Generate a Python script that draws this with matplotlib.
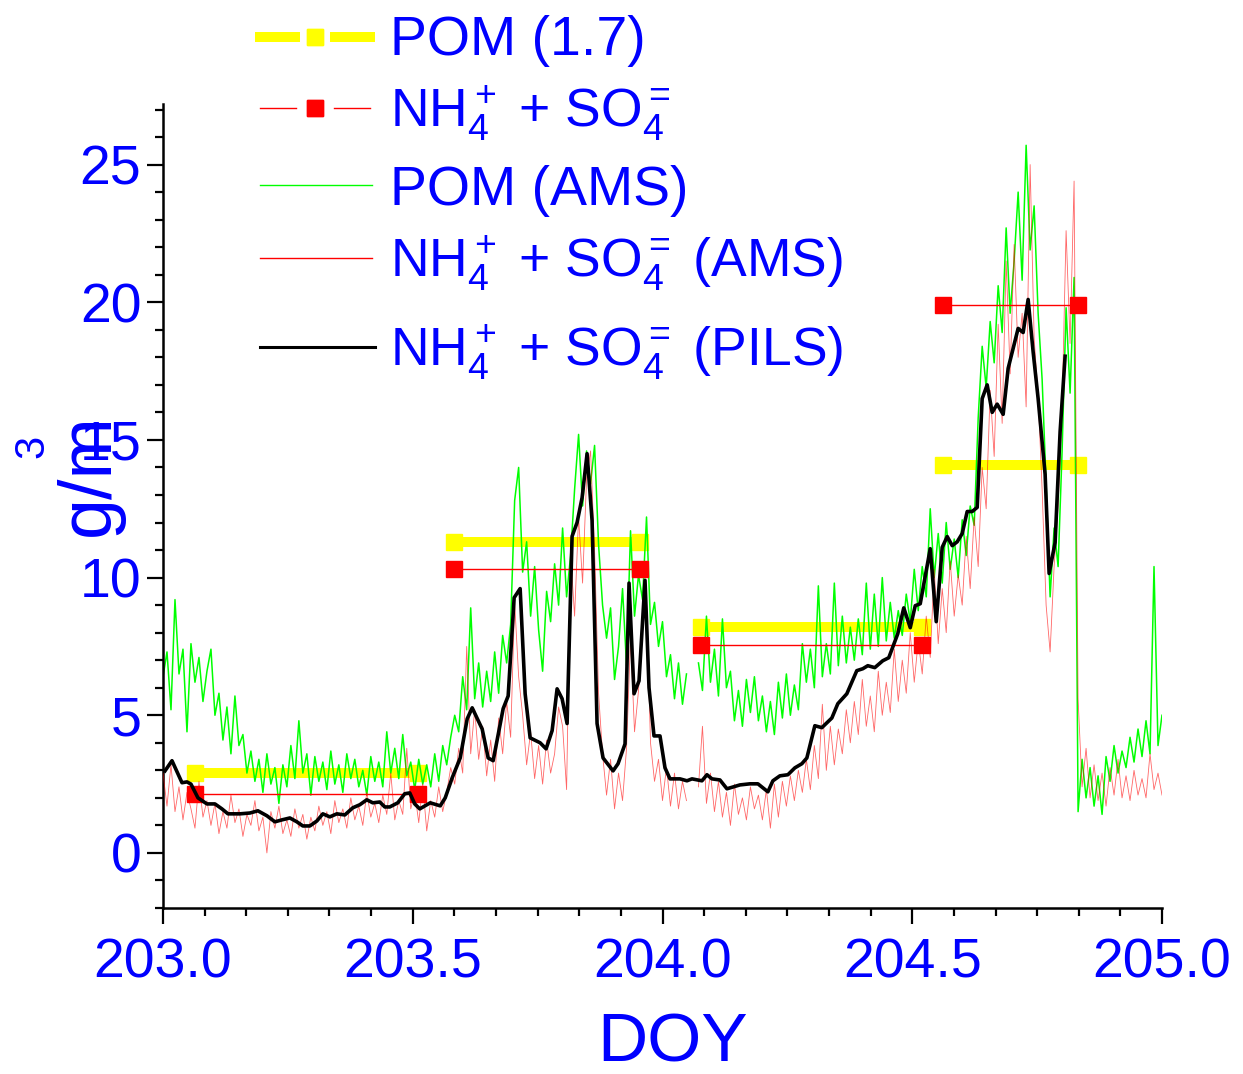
import numpy as np
import matplotlib
matplotlib.use("Agg")
import matplotlib.pyplot as plt
from matplotlib.lines import Line2D
from matplotlib.ticker import MultipleLocator, FormatStrFormatter

plt.rcParams['font.family'] = ['Liberation Sans', 'DejaVu Sans']
plt.rcParams['mathtext.fontset'] = 'custom'
plt.rcParams['mathtext.rm'] = 'Liberation Sans'
plt.rcParams['mathtext.it'] = 'Liberation Sans:italic'
plt.rcParams['mathtext.bf'] = 'Liberation Sans:bold'

BLUE = '#0000ff'
W, H = 1243, 1074

# filter samples: collection start / end (DOY) and mass
filter_start = [203.064, 203.583, 204.077, 204.562]
filter_end = [203.510, 203.955, 204.520, 204.832]
pom_filter = [2.9, 11.3, 8.2, 14.1]
nh4so4_filter = [2.15, 10.3, 7.55, 19.9]

# PILS NH4+ + SO4=
pils_doy = [
    203.004, 203.018, 203.038, 203.048, 203.056, 203.070, 203.088, 203.104, 203.118, 203.130,
    203.154, 203.174, 203.190, 203.208, 203.224, 203.238, 203.254, 203.268, 203.280, 203.294,
    203.308, 203.320, 203.334, 203.348, 203.364, 203.380, 203.394, 203.408, 203.420, 203.434,
    203.444, 203.454, 203.470, 203.484, 203.494, 203.504, 203.514, 203.535, 203.555, 203.565,
    203.579, 203.595, 203.609, 203.619, 203.639, 203.651, 203.661, 203.681, 203.691, 203.703,
    203.715, 203.725, 203.735, 203.755, 203.767, 203.779, 203.789, 203.799, 203.809, 203.819,
    203.829, 203.839, 203.849, 203.859, 203.869, 203.881, 203.901, 203.911, 203.925, 203.933,
    203.943, 203.953, 203.965, 203.973, 203.983, 203.995, 204.005, 204.015, 204.035, 204.049,
    204.059, 204.079, 204.089, 204.099, 204.115, 204.129, 204.155, 204.175, 204.191, 204.211,
    204.221, 204.235, 204.251, 204.265, 204.279, 204.289, 204.305, 204.319, 204.339, 204.351,
    204.369, 204.389, 204.401, 204.411, 204.425, 204.441, 204.453, 204.471, 204.483, 204.496,
    204.506, 204.516, 204.536, 204.548, 204.560, 204.570, 204.580, 204.590, 204.600, 204.610,
    204.620, 204.630, 204.640, 204.650, 204.660, 204.670, 204.682, 204.692, 204.712, 204.722,
    204.732, 204.742, 204.752, 204.766, 204.774, 204.786, 204.796, 204.806,
]
pils_nh4so4 = [
    2.98, 3.35, 2.55, 2.58, 2.5, 2.0, 1.78, 1.78, 1.6, 1.42,
    1.42, 1.45, 1.53, 1.35, 1.13, 1.2, 1.27, 1.13, 0.98, 0.98,
    1.16, 1.42, 1.31, 1.42, 1.38, 1.64, 1.75, 1.93, 1.82, 1.85,
    1.67, 1.67, 1.82, 2.15, 2.18, 1.78, 1.6, 1.82, 1.71, 2.0,
    2.73, 3.45, 4.87, 5.27, 4.5, 3.45, 3.35, 5.24, 5.7, 9.27,
    9.6, 5.78, 4.18, 4.0, 3.78, 4.44, 5.96, 5.6, 4.7, 11.5,
    12.0, 12.9, 14.5, 12.07, 4.7, 3.45, 2.98, 3.24, 3.96, 9.8,
    5.78, 6.25, 9.9, 6.0, 4.25, 4.25, 3.09, 2.69, 2.69, 2.62,
    2.69, 2.62, 2.84, 2.69, 2.65, 2.33, 2.47, 2.51, 2.51, 2.22,
    2.62, 2.8, 2.84, 3.09, 3.24, 3.45, 4.62, 4.55, 4.9, 5.42,
    5.78, 6.62, 6.69, 6.8, 6.73, 6.98, 7.09, 7.96, 8.9, 8.18,
    8.98, 9.05, 11.05, 8.4, 11.1, 11.49, 11.16, 11.3, 11.6, 12.4,
    12.4, 12.55, 16.5, 17.0, 16.0, 16.3, 15.93, 17.6, 19.05, 18.9,
    20.1, 18.2, 16.5, 13.75, 10.15, 11.27, 15.3, 18.04,
]

# AMS, one sample every 0.008 day from DOY 203.0 (nan = no data)
ams_start = 203.0
ams_step = 0.008
nan = np.nan
pom_ams = [
    6.4, 7.3, 5.2, 9.2, 6.5, 7.4, 4.4, 7.6, 6.2, 7.1,
    5.5, 6.6, 7.4, 5.0, 5.8, 4.1, 5.3, 3.6, 5.7, 3.9,
    4.3, 2.9, 3.7, 2.6, 3.4, 2.2, 3.6, 2.5, 3.1, 1.8,
    3.2, 2.4, 3.9, 2.7, 4.8, 2.9, 3.6, 2.1, 3.5, 2.6,
    3.3, 2.3, 3.7, 2.5, 3.2, 2.2, 3.6, 2.7, 3.4, 2.4,
    3.0, 2.1, 3.5, 2.6, 3.3, 2.4, 4.4, 2.9, 3.8, 2.7,
    4.3, 2.8, 3.3, 2.3, 3.4, 2.5, 3.2, 2.4, 3.6, 2.6,
    3.9, 3.2, 4.2, 5.0, 4.4, 6.4, 5.2, 8.9, 5.6, 6.9,
    5.3, 6.6, 5.5, 7.3, 5.8, 7.9, 6.9, 8.3, 12.8, 14.0,
    10.2, 11.3, 8.6, 10.4, 8.1, 6.6, 9.5, 8.4, 10.5, 9.0,
    11.8, 9.3, 10.8, 13.2, 15.2, 12.6, 14.6, 13.4, 14.8, 11.2,
    9.0, 7.8, 8.9, 6.3, 7.5, 9.6, 6.8, 11.7, 8.6, 10.1,
    9.2, 12.2, 8.3, 9.1, 7.5, 8.4, 6.4, 7.2, 5.6, 6.9,
    5.4, 6.5, nan, nan, 6.9, 5.9, 8.6, 6.2, 7.4, 5.7,
    8.5, 6.0, 6.6, 4.8, 5.9, 4.6, 6.3, 5.1, 6.4, 4.8,
    5.7, 4.4, 5.5, 4.3, 6.2, 4.9, 6.5, 5.0, 6.1, 5.2,
    7.6, 6.2, 7.4, 6.0, 9.7, 6.4, 7.6, 6.5, 9.8, 6.8,
    8.6, 6.9, 8.2, 7.0, 8.5, 7.2, 9.8, 7.4, 9.4, 7.5,
    10.0, 7.7, 9.1, 7.8, 8.8, 7.9, 9.4, 8.4, 10.3, 8.8,
    10.4, 9.3, 12.5, 10.0, 11.6, 9.8, 12.0, 10.3, 11.4, 10.0,
    12.1, 10.8, 12.6, 11.9, 15.8, 18.4, 16.9, 19.3, 17.8, 20.6,
    18.9, 22.7, 19.6, 21.5, 24.0, 20.8, 25.7, 21.9, 23.5, 19.6,
    17.2, 13.4, 9.3, 11.8, 10.4, 14.6, 19.8, 16.7, 20.9, 1.5,
    3.4, 2.0, 3.1, 1.7, 2.8, 1.4, 3.5, 2.6, 3.9, 2.9,
    3.7, 3.1, 4.2, 3.3, 4.5, 3.5, 4.8, 3.6, 10.4, 3.9,
    5.0,
]
nh4so4_ams = [
    2.9, 1.7, 3.2, 1.5, 2.4, 1.2, 2.2, 1.6, 0.9, 2.6,
    1.3, 1.9, 1.0, 1.8, 0.7, 1.5, 0.9, 2.1, 1.1, 1.6,
    0.6, 1.4, 1.0, 1.9, 0.8, 1.3, 0.0, 1.5, 0.9, 1.7,
    0.7, 1.2, 0.6, 1.6, 0.9, 1.4, 0.5, 1.3, 0.8, 1.7,
    1.0, 1.5, 0.7, 1.9, 1.1, 1.6, 0.9, 2.0, 1.2, 1.7,
    1.0, 2.2, 1.3, 1.8, 1.1, 2.1, 1.4, 2.9, 1.2, 1.9,
    1.4, 3.8, 1.6, 2.2, 1.1, 2.5, 0.8, 1.9, 1.3, 2.4,
    1.5, 2.2, 3.1, 2.5, 3.8, 2.9, 7.5, 3.6, 5.2, 3.4,
    4.6, 2.8, 4.1, 2.6, 4.9, 3.6, 5.5, 4.2, 9.1, 6.4,
    5.0, 3.2, 4.4, 2.7, 3.9, 2.5, 4.1, 2.9, 3.6, 5.3,
    4.6, 2.3, 10.9, 8.6, 12.2, 9.8, 13.6, 14.6, 11.0, 5.8,
    3.6, 2.1, 3.4, 1.6, 2.9, 1.9, 3.8, 7.8, 4.4, 5.9,
    8.4, 9.1, 4.0, 2.6, 3.4, 1.9, 3.1, 1.7, 2.9, 1.6,
    2.6, 1.9, nan, nan, 2.4, 4.6, 1.8, 2.9, 1.5, 2.6,
    1.3, 2.2, 1.0, 2.5, 1.4, 2.0, 1.2, 2.4, 1.6, 2.1,
    1.2, 2.3, 0.9, 2.5, 1.3, 2.6, 1.7, 2.8, 1.9, 3.0,
    2.2, 3.4, 2.3, 3.9, 2.7, 5.4, 3.0, 4.6, 3.2, 4.5,
    3.6, 5.2, 4.0, 5.5, 4.3, 6.3, 4.6, 5.7, 4.4, 6.6,
    5.0, 6.2, 5.1, 7.4, 5.5, 7.0, 5.8, 8.0, 6.2, 7.7,
    6.5, 8.6, 7.1, 10.3, 7.6, 9.6, 8.0, 10.6, 8.6, 10.1,
    9.0, 11.5, 9.6, 12.2, 10.4, 14.0, 12.5, 16.8, 14.4, 19.2,
    15.6, 21.5, 17.4, 22.1, 18.0, 19.6, 16.2, 25.0, 18.7, 16.6,
    13.2, 9.0, 7.3, 10.4, 12.6, 16.2, 22.6, 18.5, 24.4, 5.6,
    2.4, 3.8, 2.0, 3.2, 1.9, 2.9, 1.7, 3.1, 2.1, 3.4,
    2.0, 2.8, 1.9, 3.0, 2.1, 2.7, 2.0, 3.6, 2.3, 2.9,
    2.1,
]


def fx(px):
    return px / W


def fy(py):
    return 1 - py / H


def main():
    ams_doy = ams_start + ams_step * np.arange(len(pom_ams))

    fig = plt.figure(figsize=(W / 100, H / 100), dpi=100)
    left, right, bottom, top = 163, 1162, 908, 104
    ax = fig.add_axes([fx(left), fy(bottom), (right - left) / W, (bottom - top) / H])

    for s, e, p in zip(filter_start, filter_end, pom_filter):
        ax.plot([s, e], [p, p], color='#ffff00', lw=7.2, marker='s', ms=11,
                solid_capstyle='butt', zorder=1)
    ax.plot(ams_doy, pom_ams, color='#00ff00', lw=1.1, zorder=2)
    ax.plot(ams_doy, nh4so4_ams, color='#ff0000', lw=0.6, alpha=0.6, zorder=3)
    for s, e, n in zip(filter_start, filter_end, nh4so4_filter):
        ax.plot([s, e], [n, n], color='#ff0000', lw=1.0, marker='s', ms=11, zorder=4)
    ax.plot(pils_doy, pils_nh4so4, color='black', lw=2.6, zorder=5)

    ax.set_xlim(203.0, 205.0)
    ax.set_ylim(-2.0, 27.2)
    ax.xaxis.set_major_locator(MultipleLocator(0.5))
    ax.xaxis.set_minor_locator(MultipleLocator(1 / 12))
    ax.xaxis.set_major_formatter(FormatStrFormatter('%.1f'))
    ax.yaxis.set_major_locator(MultipleLocator(5))
    ax.yaxis.set_minor_locator(MultipleLocator(1))

    for side in ('top', 'right'):
        ax.spines[side].set_visible(False)
    for side in ('left', 'bottom'):
        ax.spines[side].set_linewidth(1.8)
    ax.tick_params(which='major', direction='out', length=11.5, width=1.6,
                   labelsize=40, labelcolor=BLUE)
    ax.tick_params(which='minor', direction='out', length=6, width=1.6)
    ax.tick_params(axis='x', which='major', pad=10)
    ax.tick_params(axis='y', which='major', pad=4)

    # axis titles
    fig.text(fx(89), fy(475), 'g/m', rotation=90, ha='center', va='center',
             fontsize=53, color=BLUE)
    fig.text(fx(32), fy(446), '3', rotation=90, ha='center', va='center',
             fontsize=30, color=BLUE)
    fig.text(fx(673), fy(1043), 'DOY', ha='center', va='center',
             fontsize=50, color=BLUE)

    # legend
    ion = r'$\mathregular{NH_4^+}$ + $\mathregular{SO_4^{=}}$'
    labels = ['POM (1.7)', ion, 'POM (AMS)', ion + ' (AMS)', ion + ' (PILS)']
    handle_y = [37, 108, 185, 258, 347]
    text_base = [55, 127, 205, 277, 366]
    for lab, yb in zip(labels, text_base):
        fig.text(fx(390), fy(yb), lab, ha='left', va='baseline',
                 fontsize=40 if lab.startswith('POM') else 38.5, color=BLUE)

    def seg(x0, x1, y, **kw):
        fig.add_artist(Line2D([fx(x0), fx(x1)], [fy(y), fy(y)],
                              transform=fig.transFigure, **kw))

    y0, y1, y2, y3, y4 = handle_y
    seg(255, 300, y0, color='#ffff00', lw=7.2, solid_capstyle='butt')
    seg(330, 375, y0, color='#ffff00', lw=7.2, solid_capstyle='butt')
    seg(315, 315, y0, color='#ffff00', marker='s', ms=11, lw=0)
    seg(260, 296, y1, color='#ff0000', lw=1.0)
    seg(334, 370, y1, color='#ff0000', lw=1.0)
    seg(315, 315, y1, color='#ff0000', marker='s', ms=11, lw=0)
    seg(260, 372, y2, color='#00ff00', lw=1.0)
    seg(260, 372, y3, color='#ff0000', lw=1.0)
    seg(260, 375, y4, color='black', lw=2.2)

    fig.savefig('out.png', dpi=100)


if __name__ == "__main__":
    main()
